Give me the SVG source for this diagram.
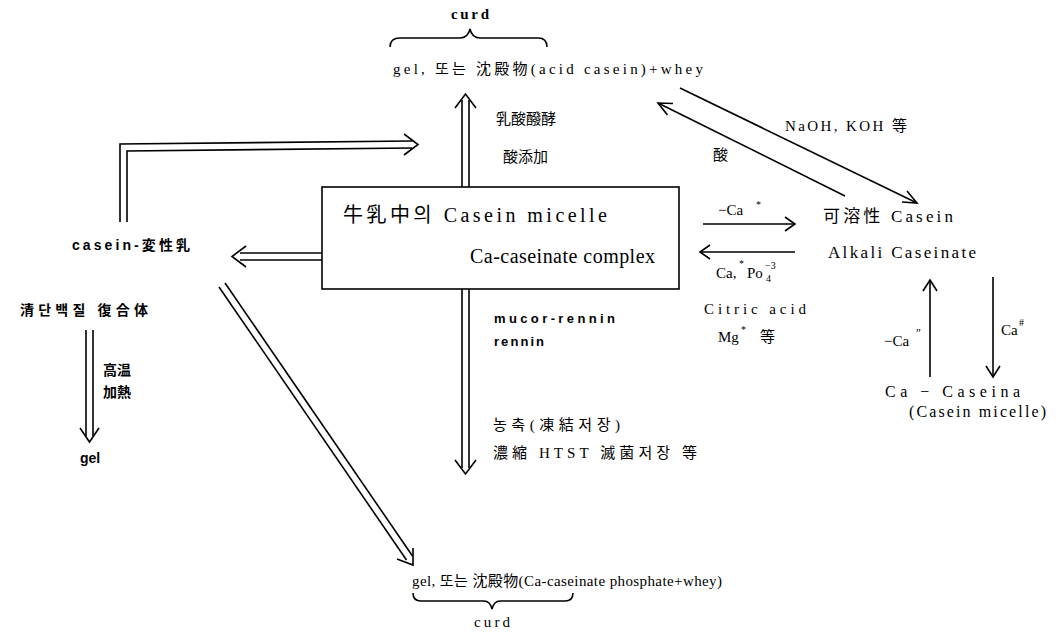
<svg xmlns="http://www.w3.org/2000/svg" width="1061" height="633" viewBox="0 0 1061 633">
<style>
.t{font-family:"Liberation Serif","Noto Sans CJK KR",serif;fill:#000;font-size:15px}
.b{font-family:"Liberation Sans","Noto Sans CJK KR",sans-serif;font-weight:bold;fill:#000;font-size:14px}
.big{font-size:20px}
.sup{font-size:10px}
.ln{stroke:#000;stroke-width:1.6;fill:none}
.hd{stroke:#000;stroke-width:1.6;fill:none;stroke-linejoin:miter}
</style>
<rect width="1061" height="633" fill="#fff"/>
<g id="connectors">
  <line class="ln" x1="462" y1="100" x2="462" y2="187"/>
  <line class="ln" x1="469" y1="100" x2="469" y2="187"/>
  <polyline class="hd" points="455,108 465.5,94 476,108"/>
  <line class="ln" x1="462" y1="289" x2="462" y2="468"/>
  <line class="ln" x1="469" y1="289" x2="469" y2="468"/>
  <polyline class="hd" points="455,460 465.5,474 476,460"/>
  <line class="ln" x1="240" y1="253" x2="322" y2="253"/>
  <line class="ln" x1="240" y1="260" x2="322" y2="260"/>
  <polyline class="hd" points="246,246 232,256.5 246,267"/>
  <polyline class="ln" points="120,222 120,144 412,141"/>
  <polyline class="ln" points="127,222 127,151 412,148"/>
  <polyline class="hd" points="404,134 418,144.5 404,155"/>
  <line class="ln" x1="86" y1="330" x2="86" y2="436"/>
  <line class="ln" x1="93" y1="330" x2="93" y2="436"/>
  <polyline class="hd" points="80,428 89.5,442 99,428"/>
  <line class="ln" x1="225" y1="283" x2="412.5" y2="556"/>
  <line class="ln" x1="219" y1="287" x2="406.5" y2="560"/>
  <polyline class="hd" points="413,548 413,565 397,559"/>
  <line class="ln" x1="680" y1="88" x2="917" y2="203"/>
  <polyline class="hd" points="907,191 917,203 902,202"/>
  <line class="ln" x1="658" y1="103" x2="845" y2="196"/>
  <polyline class="hd" points="673,103.5 658,103 667.5,115"/>
  <line class="ln" x1="703" y1="224" x2="795" y2="224"/>
  <polyline class="hd" points="785,217 795,224 785,231"/>
  <line class="ln" x1="700" y1="252" x2="795" y2="252"/>
  <polyline class="hd" points="710,245 700,252 710,259"/>
  <line class="ln" x1="930" y1="280" x2="930" y2="377"/>
  <polyline class="hd" points="923,291 930,280 937,291"/>
  <line class="ln" x1="993" y1="277" x2="993" y2="377"/>
  <polyline class="hd" points="986,366 993,377 1000,366"/>
  <text class="t" x="496" y="124" textLength="60" lengthAdjust="spacing">乳酸醱酵</text>
  <text class="t" x="503" y="162" textLength="45" lengthAdjust="spacing">酸添加</text>
  <text class="t" x="785" y="131" textLength="122" lengthAdjust="spacing">NaOH, KOH 等</text>
  <text class="t" x="713" y="160">酸</text>
  <text class="t" x="718" y="215">−Ca</text>
  <text class="t sup" x="756" y="208">*</text>
  <text class="t" x="716" y="278">Ca,</text>
  <text class="t sup" x="739" y="267">*</text>
  <text class="t" x="747" y="278">Po</text>
  <text class="t sup" x="766" y="282">4</text>
  <text class="t sup" x="765" y="269">−3</text>
  <text class="t" x="704" y="314" textLength="102" lengthAdjust="spacing">Citric acid</text>
  <text class="t" x="718" y="342">Mg</text>
  <text class="t sup" x="741" y="333">*</text>
  <text class="t" x="760" y="342">等</text>
  <text class="b" x="494" y="323" textLength="121" lengthAdjust="spacing" style="font-size:13px">mucor-rennin</text>
  <text class="b" x="494" y="346" textLength="50" lengthAdjust="spacing" style="font-size:13px">rennin</text>
  <text class="t" x="493" y="430" textLength="127" lengthAdjust="spacing">농축(凍結저장)</text>
  <text class="t" x="493" y="458" textLength="204" lengthAdjust="spacing">濃縮 HTST 滅菌저장 等</text>
  <text class="b" x="103" y="375">高温</text>
  <text class="b" x="103" y="397">加熱</text>
  <text class="t" x="884" y="346">−Ca</text>
  <text class="t" x="916" y="337" style="font-size:12px">″</text>
  <text class="t" x="1001" y="335">Ca</text>
  <text class="t sup" x="1019" y="326">#</text>
</g>
<g id="node-top">
  <text class="t" x="470" y="19" text-anchor="middle" style="font-weight:bold" textLength="38" lengthAdjust="spacing">curd</text>
  <path class="ln" d="M390,47 Q390,38 400,38 L460,38 Q468,38 470,29 Q472,38 480,38 L538,38 Q547,38 547,47"/>
  <text class="t" x="393" y="74" textLength="310" lengthAdjust="spacing">gel, 또는 沈殿物(acid casein)+whey</text>
</g>
<g id="node-box">
  <rect x="322" y="187" width="357" height="102" fill="#fff" stroke="#000" stroke-width="1.6"/>
  <text class="t big" x="343" y="222" textLength="264" lengthAdjust="spacing">牛乳中의 Casein micelle</text>
  <text class="t big" x="470" y="263" textLength="185" lengthAdjust="spacing">Ca-caseinate complex</text>
</g>
<g id="node-casein-denatured">
  <text class="b" x="72" y="250" textLength="118" lengthAdjust="spacing">casein-変性乳</text>
</g>
<g id="node-whey-complex">
  <text class="b" x="20" y="315" textLength="128" lengthAdjust="spacing">清단백질 復合体</text>
</g>
<g id="node-gel-left">
  <text class="b" x="80" y="463">gel</text>
</g>
<g id="node-soluble">
  <text class="t" x="823" y="222" textLength="130" lengthAdjust="spacing" style="font-size:17px">可溶性 Casein</text>
  <text class="t" x="828" y="258" textLength="148" lengthAdjust="spacing" style="font-size:17px">Alkali Caseinate</text>
</g>
<g id="node-caseina">
  <text class="t" x="885" y="397" textLength="135" lengthAdjust="spacing" style="font-size:16px">Ca − Caseina</text>
  <text class="t" x="909" y="417" textLength="137" lengthAdjust="spacing" style="font-size:16px">(Casein micelle)</text>
</g>
<g id="node-bottom">
  <text class="t" x="412" y="586" textLength="310" lengthAdjust="spacing">gel, 또는 沈殿物(Ca-caseinate phosphate+whey)</text>
  <path class="ln" d="M413,593 Q413,601 421,601 L484,601 Q490,601 492,609 Q494,601 500,601 L565,601 Q573,601 573,593"/>
  <text class="t" x="492" y="627" text-anchor="middle" textLength="36" lengthAdjust="spacing">curd</text>
</g>
</svg>
